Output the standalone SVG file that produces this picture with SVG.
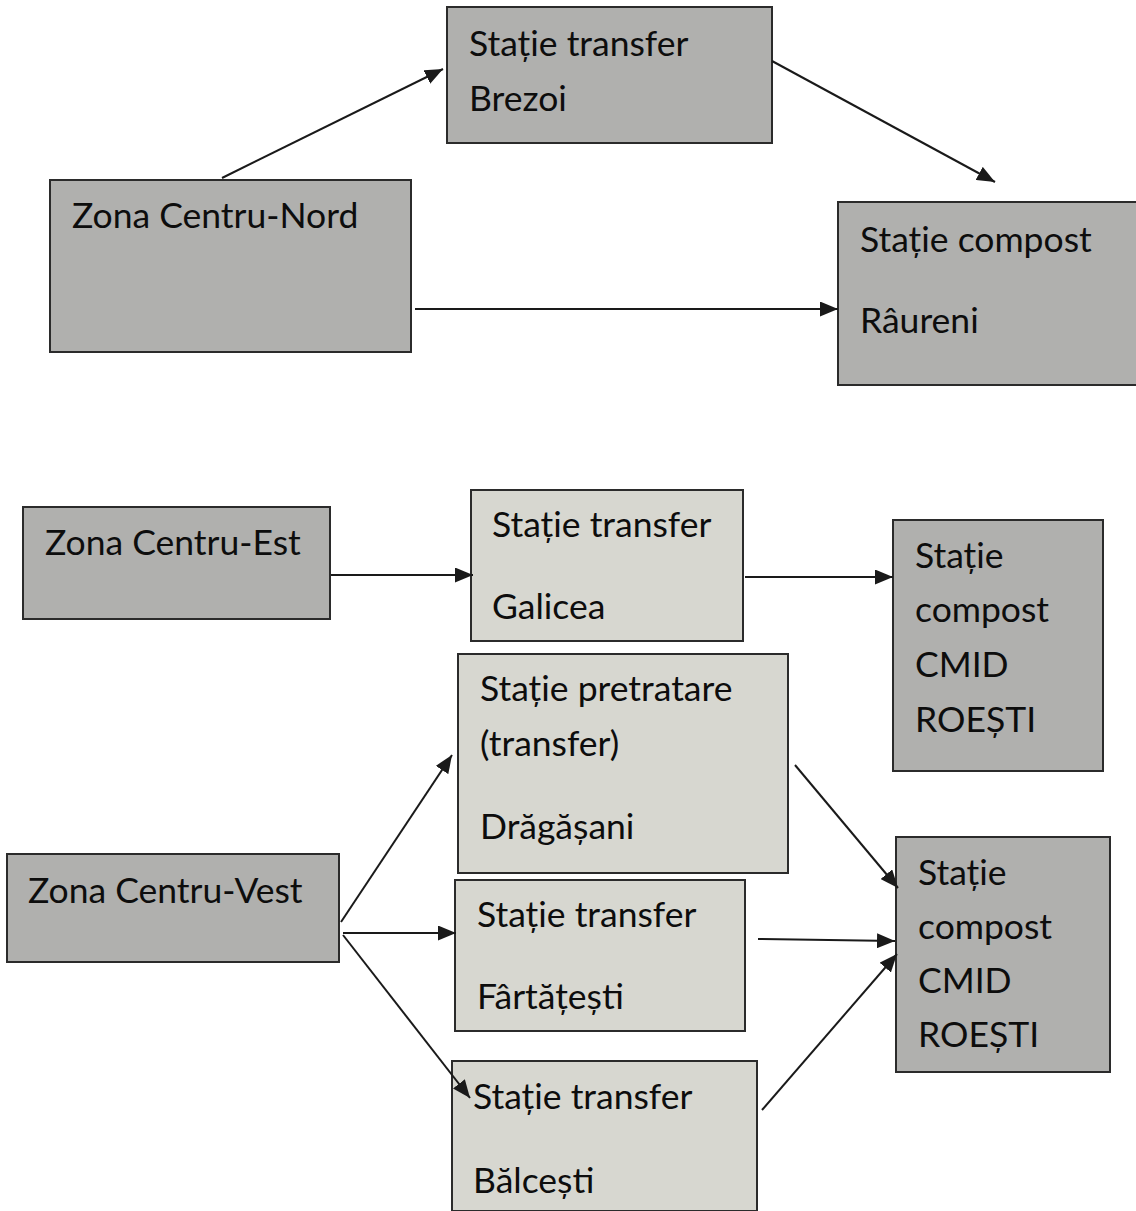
<svg xmlns="http://www.w3.org/2000/svg" width="1136" height="1211" viewBox="0 0 1136 1211">
<defs>
<style>
.dark{fill:#b0b0ae;stroke:#2b2b2b;stroke-width:2}
.light{fill:#d7d7d0;stroke:#2b2b2b;stroke-width:2}
text{font-family:Lato,"Liberation Sans",sans-serif;font-size:35.5px;fill:#0d0d0d}
.conn line{stroke:#1a1a1a;stroke-width:2;marker-end:url(#ah)}
</style>
<marker id="ah" viewBox="0 0 12 10" refX="12" refY="5" markerWidth="9" markerHeight="7.5" markerUnits="strokeWidth" orient="auto">
<path d="M0,0 L12,5 L0,10 Z" fill="#1a1a1a"/>
</marker>
</defs>
<rect width="1136" height="1211" fill="#ffffff"/>

<g id="brezoi"><rect class="dark" x="447" y="7" width="325" height="136"/>
<text x="469" y="56">Stație transfer</text><text x="469" y="111">Brezoi</text></g>

<g id="centru-nord"><rect class="dark" x="50" y="180" width="361" height="172"/>
<text x="72" y="228">Zona Centru-Nord</text></g>

<g id="raureni"><rect class="dark" x="838" y="202" width="300" height="183"/>
<text x="860" y="252">Stație compost</text><text x="860" y="333">Râureni</text></g>

<g id="centru-est"><rect class="dark" x="23" y="507" width="307" height="112"/>
<text x="45" y="555">Zona Centru-Est</text></g>

<g id="galicea"><rect class="light" x="471" y="490" width="272" height="151"/>
<text x="492" y="537">Stație transfer</text><text x="492" y="619">Galicea</text></g>

<g id="cmid-1"><rect class="dark" x="893" y="520" width="210" height="251"/>
<text x="915" y="568">Stație</text><text x="915" y="622">compost</text><text x="915" y="677">CMID</text><text x="915" y="732">ROEȘTI</text></g>

<g id="dragasani"><rect class="light" x="458" y="654" width="330" height="219"/>
<text x="480" y="701">Stație pretratare</text><text x="480" y="756">(transfer)</text><text x="480" y="839">Drăgășani</text></g>

<g id="centru-vest"><rect class="dark" x="7" y="854" width="332" height="108"/>
<text x="28" y="903">Zona Centru-Vest</text></g>

<g id="fartatesti"><rect class="light" x="455" y="880" width="290" height="151"/>
<text x="477" y="927">Stație transfer</text><text x="477" y="1009">Fârtățești</text></g>

<g id="balcesti"><rect class="light" x="452" y="1061" width="305" height="150"/>
<text x="473" y="1109">Stație transfer</text><text x="473" y="1193">Bălcești</text></g>

<g id="cmid-2"><rect class="dark" x="896" y="837" width="214" height="235"/>
<text x="918" y="885">Stație</text><text x="918" y="939">compost</text><text x="918" y="993">CMID</text><text x="918" y="1047">ROEȘTI</text></g>

<g id="connectors" class="conn">
<line x1="222" y1="178" x2="443" y2="69"/>
<line x1="772" y1="61" x2="995" y2="182"/>
<line x1="415" y1="309" x2="838" y2="309"/>
<line x1="331" y1="575" x2="473" y2="575"/>
<line x1="745" y1="577" x2="893" y2="577"/>
<line x1="341" y1="922" x2="452" y2="755"/>
<line x1="343" y1="933" x2="456" y2="933"/>
<line x1="343" y1="935" x2="470" y2="1098"/>
<line x1="795" y1="765" x2="898" y2="888"/>
<line x1="758" y1="939" x2="895" y2="941"/>
<line x1="762" y1="1110" x2="897" y2="954"/>
</g>
</svg>
